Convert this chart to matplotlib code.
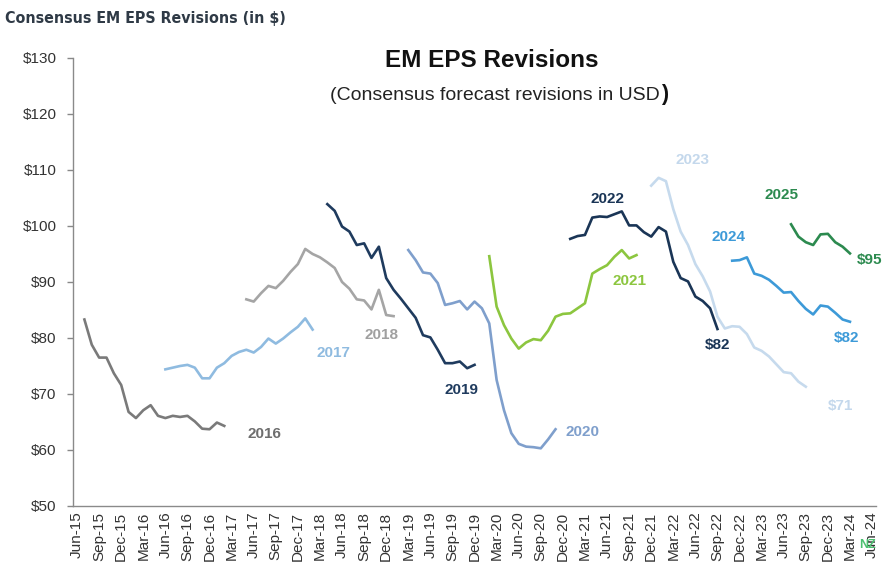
import matplotlib
matplotlib.use("Agg")
import matplotlib.pyplot as plt
import pandas as pd

# ---------------- data ----------------
months = list(pd.period_range("2015-06", "2024-06", freq="M").strftime("%b-%y"))

tick_labels = ["Jun-15", "Sep-15", "Dec-15", "Mar-16", "Jun-16", "Sep-16", "Dec-16",
               "Mar-17", "Jun-17", "Sep-17", "Dec-17", "Mar-18", "Jun-18", "Sep-18",
               "Dec-18", "Mar-19", "Jun-19", "Sep-19", "Dec-19", "Mar-20", "Jun-20",
               "Sep-20", "Dec-20", "Mar-21", "Jun-21", "Sep-21", "Dec-21", "Mar-22",
               "Jun-22", "Sep-22", "Dec-22", "Mar-23", "Jun-23", "Sep-23", "Dec-23",
               "Mar-24", "Jun-24"]

years = ["2016", "2017", "2018", "2019", "2020", "2021", "2022", "2023", "2024", "2025"]

start_months = ["Jul-15", "Jun-16", "May-17", "Apr-18", "Mar-19", "Feb-20", "Jan-21",
                "Dec-21", "Nov-22", "Jul-23"]

eps_2016 = [83.3, 78.8, 76.5, 76.5, 73.7, 71.6, 66.8, 65.7, 67.1, 68.0, 66.1, 65.7,
            66.1, 65.9, 66.1, 65.1, 63.8, 63.7, 64.9, 64.3]
eps_2017 = [74.4, 74.7, 75.0, 75.2, 74.7, 72.8, 72.8, 74.7, 75.5, 76.8, 77.5, 77.9,
            77.4, 78.4, 79.9, 79.0, 79.9, 81.0, 82.0, 83.5, 81.5]
eps_2018 = [86.9, 86.5, 88.0, 89.3, 88.9, 90.2, 91.8, 93.2, 95.9, 95.0, 94.4, 93.5,
            92.5, 90.0, 88.8, 86.9, 86.7, 85.1, 88.6, 84.1, 83.9]
eps_2019 = [103.9, 102.7, 99.9, 99.0, 96.6, 96.9, 94.3, 96.3, 90.7, 88.6, 87.0, 85.3,
            83.6, 80.5, 80.1, 77.9, 75.5, 75.5, 75.8, 74.6, 75.2]
eps_2020 = [95.7, 93.9, 91.7, 91.5, 89.8, 85.9, 86.2, 86.6, 85.1, 86.5, 85.3, 82.6,
            72.5, 67.1, 63.0, 61.1, 60.6, 60.5, 60.3, 61.9, 63.7]
eps_2021 = [94.6, 85.6, 82.3, 79.9, 78.1, 79.2, 79.8, 79.6, 81.3, 83.8, 84.3, 84.4,
            85.3, 86.2, 91.5, 92.3, 93.0, 94.5, 95.7, 94.2, 94.8]
eps_2022 = [97.7, 98.2, 98.4, 101.5, 101.7, 101.6, 102.1, 102.6, 100.1, 100.1, 98.9,
            98.1, 99.8, 99.0, 93.6, 90.7, 90.1, 87.4, 86.6, 85.3, 81.6]
eps_2023 = [107.2, 108.6, 108.0, 103.0, 99.0, 96.6, 93.2, 91.0, 88.3, 83.8, 81.7, 82.1,
            82.0, 80.7, 78.3, 77.7, 76.7, 75.3, 73.9, 73.7, 72.2, 71.3]
eps_2024 = [93.8, 93.9, 94.4, 91.5, 91.1, 90.4, 89.3, 88.1, 88.2, 86.6, 85.2, 84.2,
            85.8, 85.6, 84.5, 83.3, 82.9]
eps_2025 = [100.3, 98.1, 97.1, 96.6, 98.5, 98.6, 97.1, 96.3, 95.1]

series = [eps_2016, eps_2017, eps_2018, eps_2019, eps_2020, eps_2021, eps_2022,
          eps_2023, eps_2024, eps_2025]

end_labels = ["", "", "", "", "", "", "$82", "$71", "$82", "$95"]

# ---------------- styles ----------------
colors = ["#7a7a7a", "#8fbbe0", "#a5a5a5", "#1f3b5e", "#7f9fcc", "#8cc63f",
          "#1a3556", "#c6daed", "#3d9ad8", "#2c8a4f"]
label_colors = ["#6e6e6e", "#8fbbe0", "#a0a0a0", "#1f3b5e", "#7f9fcc", "#8cc63f",
                "#1a3556", "#c4d8ec", "#3d9ad8", "#2c8a4f"]
# year label positions (month index, value)
year_label_pos = [(25.5, 62.9), (34.8, 77.3), (41.4, 80.5), (52.2, 70.7), (68.6, 63.2),
                  (75.1, 90.2), (72.1, 104.8), (83.6, 111.8), (88.5, 98.0), (95.7, 105.5)]
end_label_pos = [None, None, None, None, None, None, (87.0, 78.8), (103.7, 67.9),
                 (104.6, 80.0), (107.7, 93.9)]

FONT = "Liberation Sans"
plt.rcParams["font.family"] = [FONT, "DejaVu Sans"]

fig = plt.figure(figsize=(8.86, 5.70), dpi=100)
fig.patch.set_facecolor("white")
ax = fig.add_axes([0.0828, 0.1123, 0.9056, 0.786])

for vals, start, col in zip(series, start_months, colors):
    i0 = months.index(start)
    xs = list(range(i0, i0 + len(vals)))
    ax.plot(xs, vals, color=col, lw=1.9, solid_joinstyle="round")

for yr, (lx, ly), col in zip(years, year_label_pos, label_colors):
    ax.text(lx, ly, yr, color=col, fontsize=11, fontweight="bold",
            ha="center", va="center")

for lab, pos, col in zip(end_labels, end_label_pos, label_colors):
    if lab and pos is not None:
        ax.text(pos[0], pos[1], lab, color=col, fontsize=11, fontweight="bold",
                ha="center", va="center")

ax.set_xlim(-0.5, len(months) - 0.5)
ax.set_ylim(50, 130)
yt = list(range(50, 131, 10))
ax.set_yticks(yt)
ax.set_yticklabels([f"${v}" for v in yt], fontsize=11, color="#333333")
ax.set_xticks([months.index(t) for t in tick_labels])
ax.set_xticklabels(tick_labels, rotation=90, fontsize=11, color="#333333")
ax.tick_params(axis="x", length=0, pad=4)
ax.tick_params(axis="y", length=4, pad=8, color="#888888", width=1)

for s in ["top", "right"]:
    ax.spines[s].set_visible(False)
for s in ["left", "bottom"]:
    ax.spines[s].set_color("#8a8a8a")
    ax.spines[s].set_linewidth(1.0)

# titles
fig.text(0.006, 0.968, "Consensus EM EPS Revisions (in $)", fontsize=11.4,
         fontweight="bold", color="#2f3a46", ha="left", va="center",
         family=["DejaVu Sans"], fontstretch="condensed")
fig.text(0.555, 0.893, "EM EPS Revisions", fontsize=17.5, fontweight="bold",
         color="#111111", ha="center", va="center")
sub = fig.text(0.558, 0.833, "(Consensus forecast revisions in USD", fontsize=14,
               color="#222222", ha="center", va="center")
plt.annotate(")", xy=(1.0, 0.0), xycoords=sub, xytext=(1, -1),
             textcoords="offset points", ha="left", va="bottom",
             fontsize=15.5, fontweight="bold", color="#111111")

fig.text(0.979, 0.044, "NZ", fontsize=9, fontweight="bold", color="#4cc070",
         ha="center", va="center")

fig.savefig("out.png", dpi=100, facecolor="white")
